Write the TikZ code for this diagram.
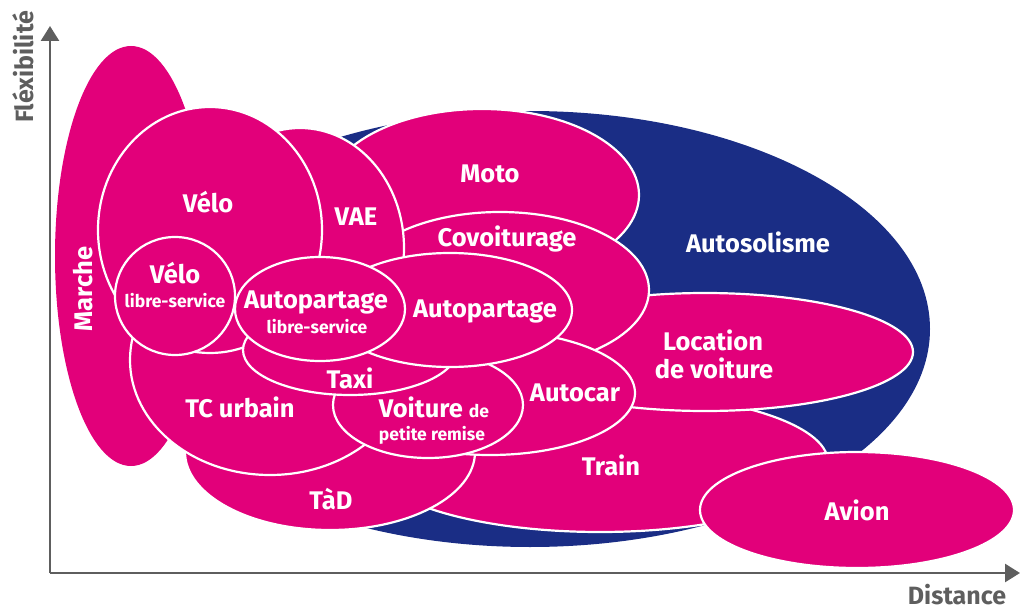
\documentclass[tikz,border=0pt]{standalone}
\usepackage{fontspec}
\setmainfont{Fira Sans}
\usetikzlibrary{arrows.meta}
\definecolor{rose}{HTML}{E2007A}
\definecolor{marine}{HTML}{1A2D85}
\definecolor{axisgray}{HTML}{5E5E5E}
\begin{document}
\begin{tikzpicture}[x=1pt,y=-1pt,
  blob/.style={fill=rose,draw=white,line width=2.2pt},
  lab/.style={text=white,font=\fontsize{25.5}{29}\selectfont\bfseries,anchor=base,inner sep=0pt},
  sub/.style={text=white,font=\fontsize{17.5}{20}\selectfont\bfseries,anchor=base,inner sep=0pt},
  axislab/.style={text=axisgray,font=\fontsize{25}{29}\selectfont\bfseries,anchor=base,inner sep=0pt},
  axisline/.style={draw=axisgray,line width=2.6pt,-{Triangle[length=15pt,width=18pt]}}]
\useasboundingbox (0,0) rectangle (1021,610);
% back layers
\path[fill=marine] (530,329) ellipse [x radius=400pt, y radius=218pt];
\path[fill=rose] (131,256) ellipse [x radius=76pt, y radius=210pt];
\path[blob] (600,462) ellipse [x radius=228pt, y radius=70pt];   % Train
\path[blob] (857,510) ellipse [x radius=157pt, y radius=58pt];   % Avion
\path[blob] (330,452) ellipse [x radius=145pt, y radius=78pt];   % TaD
\path[blob] (270,360) ellipse [x radius=140pt, y radius=115pt];  % TC urbain
\path[blob] (705,352) ellipse [x radius=208pt, y radius=59pt];   % Location
\path[blob] (482,195) ellipse [x radius=157pt, y radius=86pt];   % Moto
\path[blob] (500,290) ellipse [x radius=149pt, y radius=78pt];   % Covoiturage
\path[blob] (300,248) ellipse [x radius=104pt, y radius=120pt];  % VAE
\path[blob] (210,230) ellipse [x radius=112pt, y radius=123pt];  % Velo
\path[blob] (490,393) ellipse [x radius=145pt, y radius=62pt];   % Autocar
\path[blob] (428,405) ellipse [x radius=95pt, y radius=53pt];    % Voiture
\path[blob] (350,350) ellipse [x radius=107pt, y radius=45pt];   % Taxi
\path[blob] (450,310) ellipse [x radius=122pt, y radius=57pt];   % Autopartage
\path[blob] (320,309) ellipse [x radius=85pt, y radius=52pt];    % Autopartage LS
\path[blob] (175,296) ellipse [x radius=60pt, y radius=59pt];    % Velo LS
% axes
\coordinate (O) at (50,573);
\coordinate (ytip) at (50,26);
\coordinate (xtip) at (1020,573);
\draw[axisline] (O) -- (ytip);
\draw[axisline] (O) -- (xtip);
\node[axislab,rotate=90] (flex) at (33,67) {Fléxibilité};
\node[axislab] (dist) at (957,604) {Distance};
% labels
\node[lab] (velo) at (208,212) {Vélo};
\node[lab] (vae) at (356,225) {VAE};
\node[lab] (moto) at (490,182) {Moto};
\node[lab] (covoit) at (507,246) {Covoiturage};
\node[lab] (autosol) at (758,252) {Autosolisme};
\node[lab,rotate=90] (marche) at (92,289) {Marche};
\node[lab] (velols) at (175,283) {Vélo};
\node[sub] (velols2) at (175,307) {libre-service};
\node[lab] (autopls) at (316,308) {Autopartage};
\node[sub] (autopls2) at (317,333) {libre-service};
\node[lab] (autop) at (485,317) {Autopartage};
\node[lab] (loc) at (713,350) {Location};
\node[lab] (loc2) at (714,378) {de voiture};
\node[lab] (autocar) at (575,401) {Autocar};
\node[lab] (taxi) at (350,388) {Taxi};
\node[lab] (tc) at (240,417) {TC urbain};
\node[lab] (voit) at (434,417) {Voiture {\fontsize{17.5}{20}\selectfont de}};
\node[sub] (voit2) at (432,440) {petite remise};
\node[lab] (train) at (611,475) {Train};
\node[lab] (tad) at (331,509) {TàD};
\node[lab] (avion) at (857,520) {Avion};
\end{tikzpicture}
\end{document}
